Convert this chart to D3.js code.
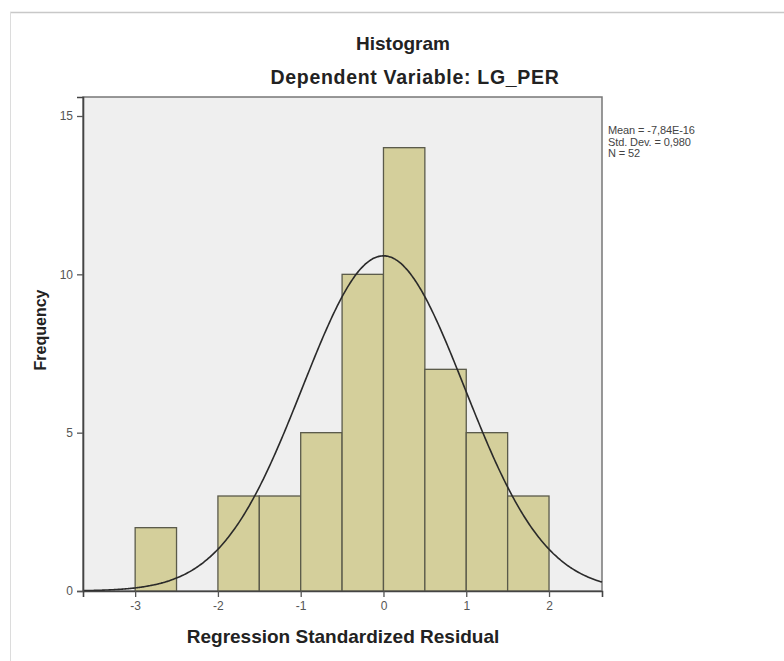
<!DOCTYPE html>
<html>
<head>
<meta charset="utf-8">
<script src="https://cdn.jsdelivr.net/npm/d3@7"></script>
<style>
  html, body { margin: 0; padding: 0; background: #fff; }
  svg { display: block; }
  text { font-family: "Liberation Sans", Arial, sans-serif; }
</style>
</head>
<body>
<script>
// ---- data ----
const binStarts = [-3, -2.5, -2, -1.5, -1, -0.5, 0, 0.5, 1, 1.5];
const binWidth = 0.5;
const counts = [2, 0, 3, 3, 5, 10, 14, 7, 5, 3];
const xTicks = [-3, -2, -1, 0, 1, 2];
const yTicks = [0, 5, 10, 15];
const statLines = ["Mean = -7,84E-16", "Std. Dev. = 0,980", "N = 52"];
const fitMean = 0;
const fitSd = 0.980;
const fitN = 52;

// ---- layout ----
const W = 784, H = 661;
const plot = { left: 83, right: 602, top: 97, bottom: 591 };

const svg = d3.select("body").append("svg").attr("width", W).attr("height", H);

// outer frame
svg.append("line").attr("x1", 10).attr("x2", W).attr("y1", 12.5).attr("y2", 12.5)
  .attr("stroke", "#c8c8c8").attr("stroke-width", 1.5);
svg.append("line").attr("x1", 10.5).attr("x2", 10.5).attr("y1", 12).attr("y2", H)
  .attr("stroke", "#dcdcdc").attr("stroke-width", 1);

const x = d3.scaleLinear().domain([-3.63, 2.64]).range([plot.left, plot.right]);
const y = d3.scaleLinear().domain([0, 15.6]).range([plot.bottom, plot.top]);

// plot background
svg.append("rect").attr("x", plot.left).attr("y", plot.top)
  .attr("width", plot.right - plot.left).attr("height", plot.bottom - plot.top)
  .attr("fill", "#efefef").attr("stroke", "#777").attr("stroke-width", 1.5);

// bars
svg.append("g").selectAll("rect").data(binStarts.map((s, i) => ({ s, c: counts[i] })).filter(d => d.c > 0))
  .join("rect")
  .attr("x", d => x(d.s))
  .attr("y", d => y(d.c))
  .attr("width", d => x(d.s + binWidth) - x(d.s))
  .attr("height", d => y(0) - y(d.c))
  .attr("fill", "#d4cf9b")
  .attr("stroke", "#5a5a4a")
  .attr("stroke-width", 1.3);

// normal curve
const pts = d3.range(0, 401).map(i => {
  const xv = -3.63 + (2.64 + 3.63) * i / 400;
  const z = (xv - fitMean) / fitSd;
  return [xv, fitN * binWidth * Math.exp(-0.5 * z * z) / (fitSd * Math.sqrt(2 * Math.PI))];
});
svg.append("path").datum(pts)
  .attr("d", d3.line().x(d => x(d[0])).y(d => y(d[1])).curve(d3.curveMonotoneX))
  .attr("fill", "none").attr("stroke", "#2a2a2a").attr("stroke-width", 1.6);

// axes
const fmt = d => String(d);
const xAxis = svg.append("g").attr("transform", `translate(0,${plot.bottom})`)
  .call(d3.axisBottom(x).tickValues(xTicks).tickSize(6).tickPadding(4).tickFormat(fmt));
const yAxis = svg.append("g").attr("transform", `translate(${plot.left},0)`)
  .call(d3.axisLeft(y).tickValues(yTicks).tickSize(6).tickPadding(4).tickFormat(fmt));
[xAxis, yAxis].forEach(a => {
  a.select(".domain").attr("stroke", "#444").attr("stroke-width", 1.6);
  a.selectAll(".tick line").attr("stroke", "#555").attr("stroke-width", 1.3);
  a.selectAll(".tick text").attr("fill", "#555").attr("font-size", 12)
    .attr("font-family", "'Liberation Sans', Arial, sans-serif");
});

// titles
svg.append("text").attr("x", 403).attr("y", 50).attr("text-anchor", "middle")
  .attr("font-size", 19).attr("font-weight", "bold").attr("fill", "#222").text("Histogram");
svg.append("text").attr("x", 415).attr("y", 84).attr("text-anchor", "middle")
  .attr("font-size", 19.5).attr("font-weight", "bold").attr("fill", "#222")
  .attr("letter-spacing", 0.7).text("Dependent Variable: LG_PER");

// axis labels
svg.append("text").attr("x", 343).attr("y", 643).attr("text-anchor", "middle")
  .attr("font-size", 19).attr("font-weight", "bold").attr("fill", "#222").text("Regression Standardized Residual");
svg.append("text").attr("transform", "translate(46,330) rotate(-90)").attr("text-anchor", "middle")
  .attr("font-size", 16).attr("font-weight", "bold").attr("fill", "#222").text("Frequency");

// stats box
svg.append("g").selectAll("text").data(statLines).join("text")
  .attr("x", 608).attr("y", (d, i) => 134 + i * 11.5)
  .attr("font-size", 11).attr("fill", "#444").attr("letter-spacing", -0.1)
  .text(d => d);
</script>
</body>
</html>
